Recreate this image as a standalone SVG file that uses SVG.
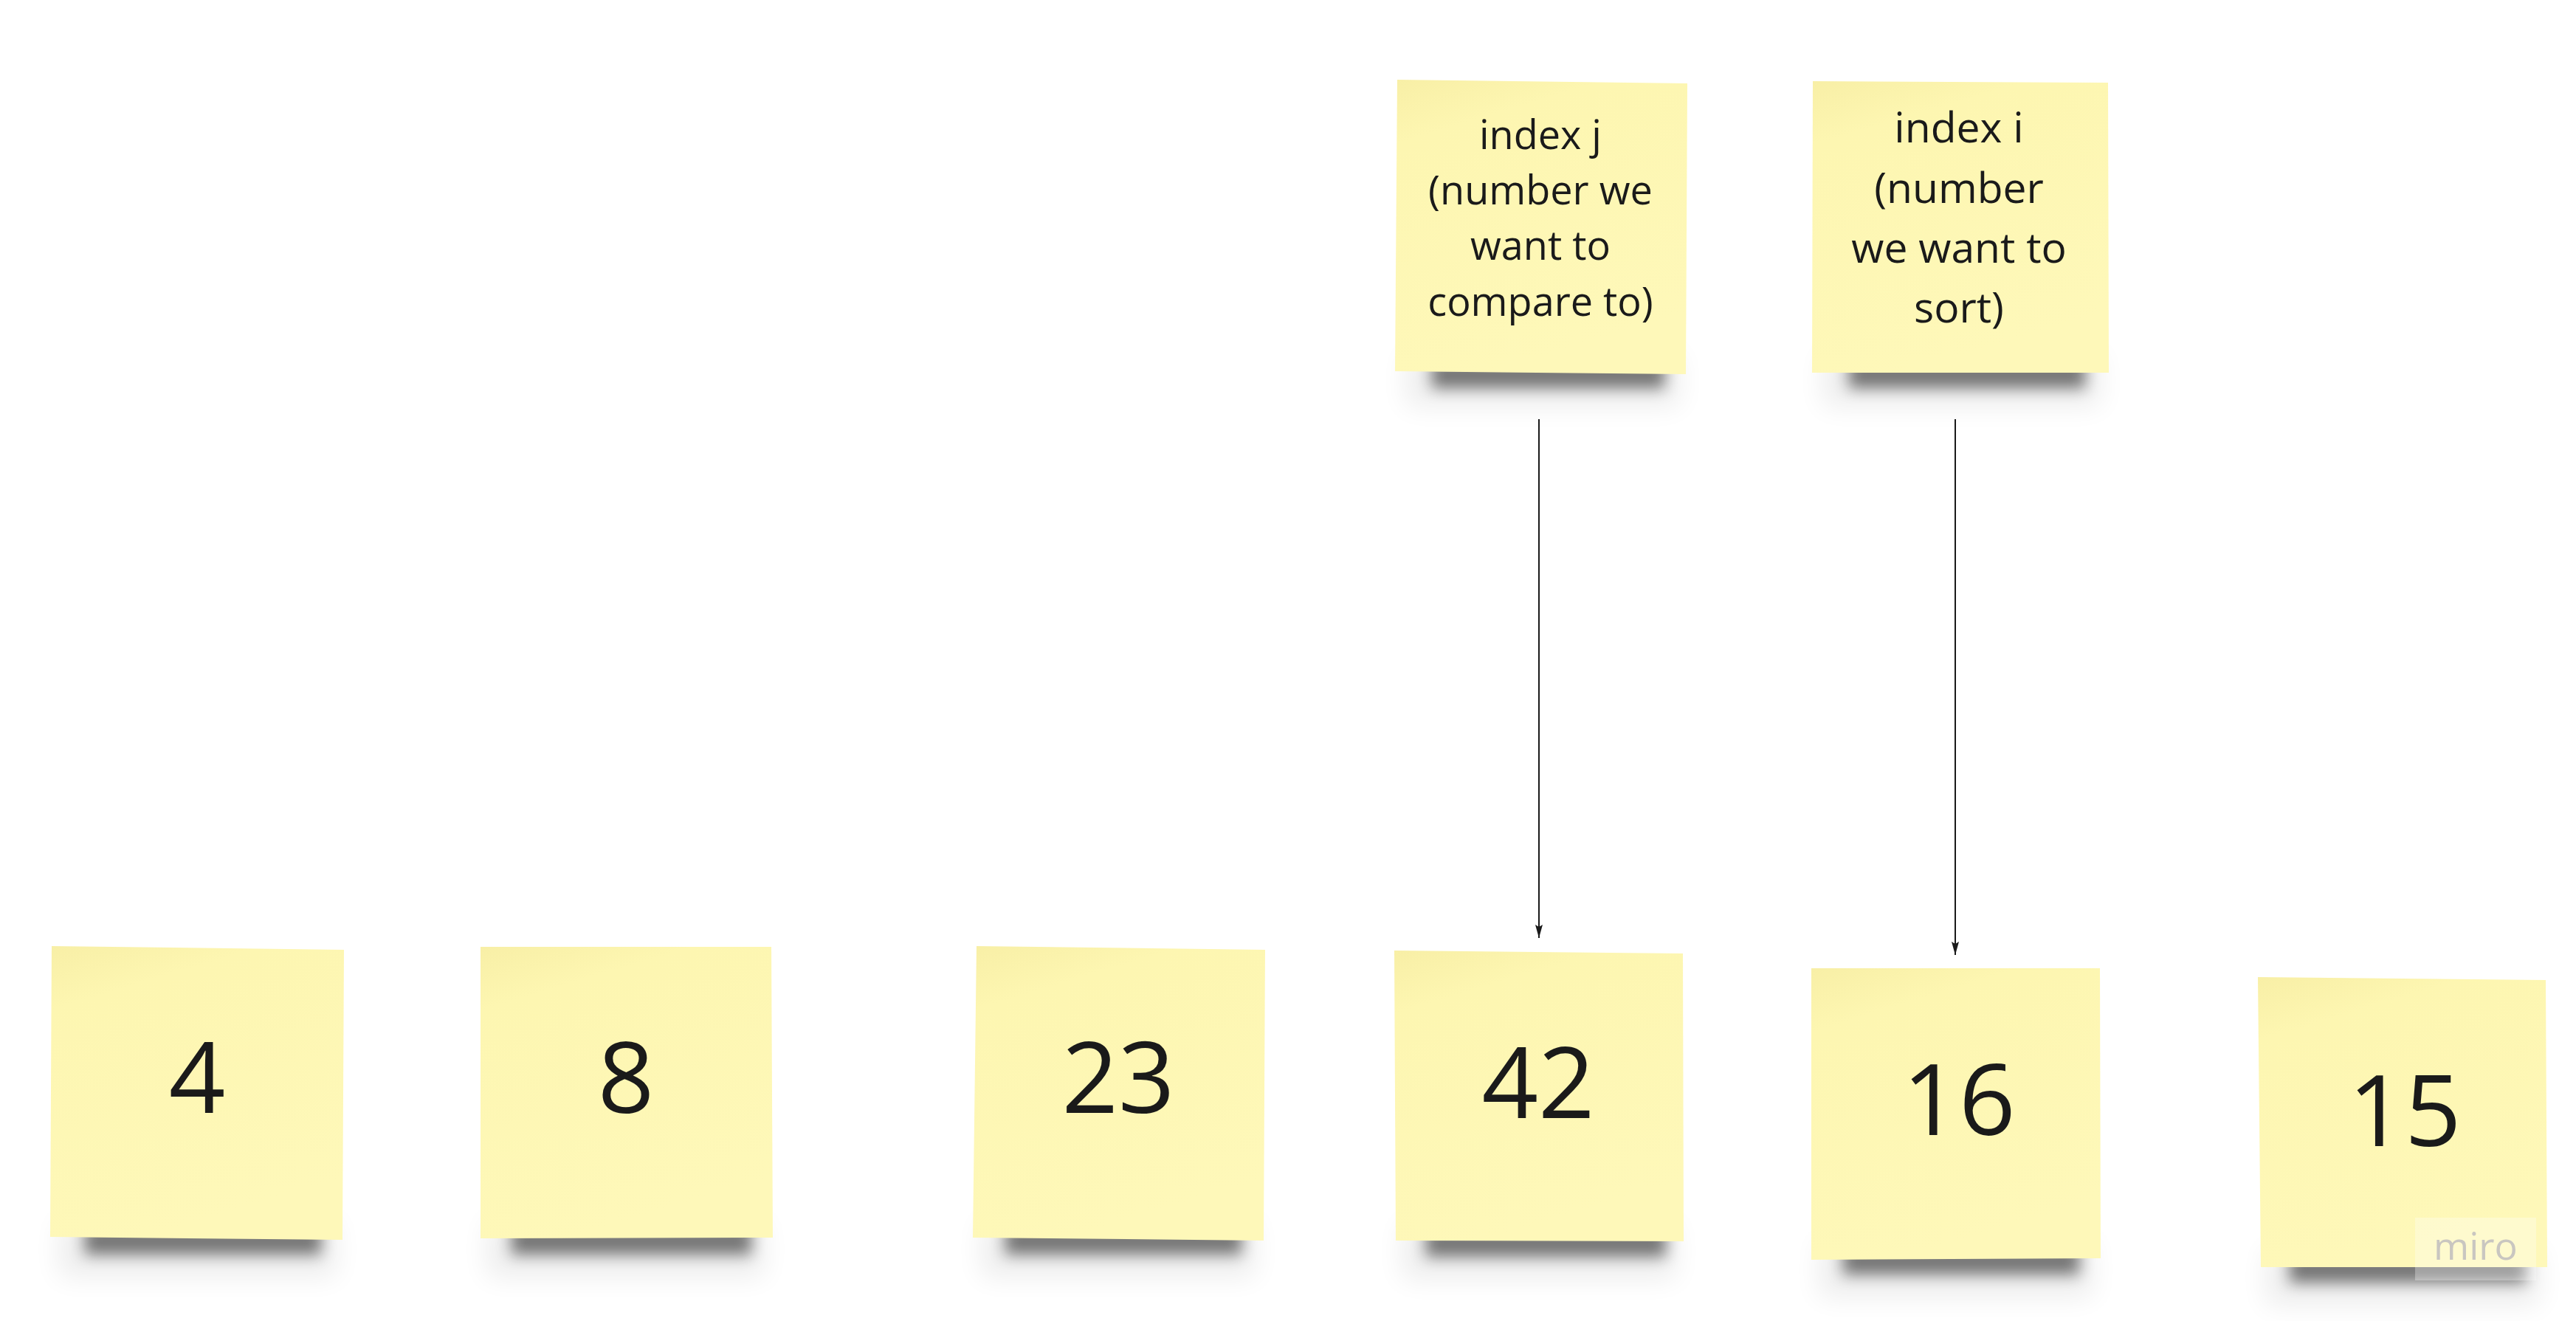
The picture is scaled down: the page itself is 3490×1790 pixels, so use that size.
<svg xmlns="http://www.w3.org/2000/svg" width="3490" height="1790" viewBox="0 0 3490 1790">
<style>
.note{fill:url(#paper);}
.shadow{fill:#000;opacity:0.5;filter:url(#blur);}
.halo{fill:#000;opacity:0.07;filter:url(#blur2);}
.num{font-family:"Open Sans","Liberation Sans",sans-serif;font-size:134px;fill:#1a1a1a;text-anchor:middle;}
.lbl{font-family:"Open Sans","Liberation Sans",sans-serif;fill:#1a1a1a;text-anchor:middle;}
.conn{stroke:#1a1a1a;stroke-width:2;fill:none;marker-end:url(#arrow);}
.wm{font-family:"Open Sans","Liberation Sans",sans-serif;font-size:52px;fill:#c9c6c0;}
</style>
<defs>
<linearGradient id="paper" x1="0" y1="0" x2="0.3" y2="1">
<stop offset="0" stop-color="#f8efa6"/>
<stop offset="0.2" stop-color="#fdf6b1"/>
<stop offset="1" stop-color="#fef8b9"/>
</linearGradient>
<filter id="blur" x="-20%" y="-100%" width="140%" height="300%">
<feGaussianBlur stdDeviation="10"/>
</filter>
<filter id="blur2" x="-30%" y="-150%" width="160%" height="400%">
<feGaussianBlur stdDeviation="18"/>
</filter>
<marker id="arrow" markerUnits="userSpaceOnUse" markerWidth="18" markerHeight="10" viewBox="0 0 18 10" refX="18" refY="5" orient="auto">
<path d="M0,0 L18,5 L0,10 L3,5 Z" fill="#1a1a1a"/>
</marker>
</defs>
<rect x="0" y="0" width="3490" height="1790" fill="#ffffff"/>

<g id="connectors">
<path class="conn" d="M2085,568 L2085,1271"/>
<path class="conn" d="M2649,568 L2649,1294"/>
</g>

<g id="note-j">
<rect class="halo" x="1905" y="480" width="370" height="70"/>
<rect class="shadow" x="1940" y="488" width="315" height="38"/>
<polygon class="note" points="1893,108 2286,113 2284,507 1890,503"/>
<text class="lbl" font-size="54" x="2087" y="202">index j</text>
<text class="lbl" font-size="54" x="2087" y="277">(number we</text>
<text class="lbl" font-size="54" x="2087" y="352">want to</text>
<text class="lbl" font-size="54" x="2087" y="428">compare to)</text>
</g>

<g id="note-i">
<rect class="halo" x="2470" y="480" width="375" height="70"/>
<rect class="shadow" x="2505" y="488" width="320" height="38"/>
<polygon class="note" points="2456,110 2856,112 2857,505 2455,505"/>
<text class="lbl" font-size="57" x="2654" y="193">index i</text>
<text class="lbl" font-size="57" x="2654" y="275">(number</text>
<text class="lbl" font-size="57" x="2654" y="356">we want to</text>
<text class="lbl" font-size="57" x="2654" y="437">sort)</text>
</g>

<g id="note-4">
<rect class="halo" x="80" y="1655" width="375" height="75"/>
<rect class="shadow" x="115" y="1662" width="320" height="38"/>
<polygon class="note" points="70,1282 466,1287 464,1680 68,1676"/>
<text class="num" x="267" y="1508">4</text>
</g>

<g id="note-8">
<rect class="halo" x="660" y="1655" width="375" height="75"/>
<rect class="shadow" x="693" y="1662" width="325" height="38"/>
<polygon class="note" points="651,1283 1045,1283 1047,1677 651,1678"/>
<text class="num" x="848" y="1508">8</text>
</g>

<g id="note-23">
<rect class="halo" x="1330" y="1655" width="370" height="75"/>
<rect class="shadow" x="1362" y="1662" width="320" height="38"/>
<polygon class="note" points="1323,1282 1714,1287 1712,1681 1318,1677"/>
<text class="num" x="1515" y="1508">23</text>
</g>

<g id="note-42">
<rect class="halo" x="1900" y="1658" width="370" height="75"/>
<rect class="shadow" x="1932" y="1665" width="325" height="38"/>
<polygon class="note" points="1889,1288 2280,1292 2281,1682 1891,1681"/>
<text class="num" x="2084" y="1515">42</text>
</g>

<g id="note-16">
<rect class="halo" x="2465" y="1682" width="370" height="75"/>
<rect class="shadow" x="2497" y="1689" width="320" height="38"/>
<polygon class="note" points="2454,1312 2845,1312 2846,1705 2454,1707"/>
<text class="num" x="2654" y="1538">16</text>
</g>

<g id="note-15">
<rect class="halo" x="3070" y="1693" width="370" height="75"/>
<rect class="shadow" x="3102" y="1700" width="320" height="38"/>
<polygon class="note" points="3059,1324 3449,1328 3451,1717 3063,1717"/>
<text class="num" x="3258" y="1553">15</text>
</g>

<g id="watermark">
<rect x="3272" y="1650" width="164" height="85" fill="#ffffff" opacity="0.3"/>
<text class="wm" x="3297" y="1707">miro</text>
</g>
</svg>
